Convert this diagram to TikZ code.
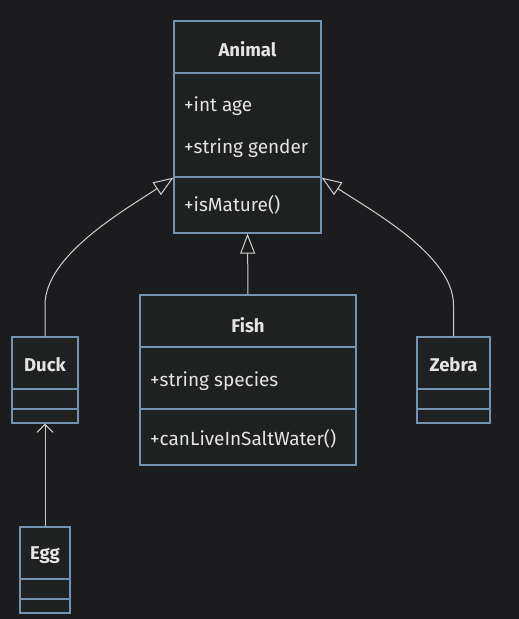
\documentclass[tikz,border=0pt]{standalone}
\usepackage{fontspec}
\setmainfont{Fira Sans}
\usetikzlibrary{positioning, arrows.meta, calc}
\definecolor{Canvas}{HTML}{1C1C1E}
\definecolor{BoxFill}{HTML}{1F2020}
\definecolor{BoxLine}{HTML}{7393B3}
\definecolor{Ink}{HTML}{E4E4E4}
\definecolor{Wire}{HTML}{CFCFCF}

\begin{document}
\begin{tikzpicture}[x=1pt, y=-1pt,
    cls/.style={draw=BoxLine, fill=BoxFill, line width=1.3pt, inner sep=0pt},
    sep/.style={draw=BoxLine, line width=1.3pt},
    title/.style={font=\bfseries\fontsize{18.5}{22}\selectfont, text=Ink, inner sep=0pt},
    member/.style={font=\fontsize{19}{22}\selectfont, text=Ink, anchor=west, inner sep=0pt},
    inherit/.style={-{Triangle[open, length=20pt, width=15pt]}, draw=Wire, line width=1pt},
    assoc/.style={-{Straight Barb[length=8pt, width=16pt]}, draw=Wire, line width=1pt}
]

\fill[Canvas] (0,0) rectangle (519,619);

% base class
\node[cls, minimum width=147, minimum height=212] (animal) at (247.5,127) {};
\draw[sep] (animal.west |- 0,73) -- (animal.east |- 0,73);
\draw[sep] (animal.west |- 0,177) -- (animal.east |- 0,177);
\node[title] (animalname) at (247.5,49) {Animal};
\node[member] (age) at (184,106) {+int age};
\node[member] (gender) at (184,148) {+string gender};
\node[member] (mature) at (184,205) {+isMature()};

% subclasses
\node[cls, minimum width=216, minimum height=170] (fish) at (248,380) {};
\draw[sep] (fish.west |- 0,347) -- (fish.east |- 0,347);
\draw[sep] (fish.west |- 0,409) -- (fish.east |- 0,409);
\node[title] (fishname) at (248,325) {Fish};
\node[member] (species) at (150,381) {+string species};
\node[member] (saltwater) at (150,439) {+canLiveInSaltWater()};

\node[cls, minimum width=66, minimum height=86] (duck) at (45,380) {};
\draw[sep] (duck.west |- 0,389) -- (duck.east |- 0,389);
\draw[sep] (duck.west |- 0,409) -- (duck.east |- 0,409);
\node[title] (duckname) at (45,365) {Duck};

\node[cls, minimum width=73, minimum height=86] (zebra) at (453.5,380) {};
\draw[sep] (zebra.west |- 0,389) -- (zebra.east |- 0,389);
\draw[sep] (zebra.west |- 0,409) -- (zebra.east |- 0,409);
\node[title] (zebraname) at (453.5,365) {Zebra};

\node[cls, minimum width=50, minimum height=86] (egg) at (45,570) {};
\draw[sep] (egg.west |- 0,579) -- (egg.east |- 0,579);
\draw[sep] (egg.west |- 0,599) -- (egg.east |- 0,599);
\node[title] (eggname) at (45,555) {Egg};

% relations
\draw[inherit] (fish.north) -- (animal.south);
\draw[inherit] (duck.north) -- (45,305) .. controls (45,255) and (125,210) .. ([yshift=56pt]animal.south west);
\draw[inherit] (zebra.north) -- (453.5,305) .. controls (453.5,255) and (370,210) .. ([yshift=56pt]animal.south east);
\draw[assoc] (egg.north) -- (duck.south);

\end{tikzpicture}
\end{document}
